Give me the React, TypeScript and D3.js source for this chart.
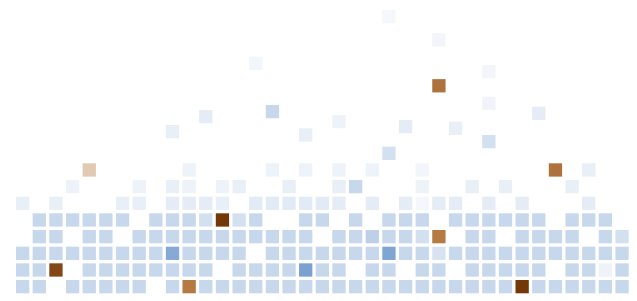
import React from "react";
import * as d3 from "d3";

const _ = null;
// grid rows, bottom (row 0) to top; one value per column (37 columns), null = empty
const row0 = [-.25,-.25,_,-.25,-.25,-.25,-.25,-.25,_,-.25,.55,-.25,-.25, -.25,-.25,-.25,-.25,-.25,-.25,-.25,-.25,-.25,-.25,-.25,-.25, -.25,-.25,-.25,-.25,-.25,1,-.25,-.25,-.25,-.25,-.25,-.25];
const row1 = [-.25,-.25,.9,_,-.25,-.25,-.25,-.25,-.25,-.25,-.25,-.25,_, -.25,-.25,-.25,-.25,-.6,-.25,-.25,_,-.25,-.25,_,-.25, -.25,_,-.25,-.25,-.25,-.25,-.25,_,-.25,-.25,-.08,-.25];
const row2 = [-.25,-.25,-.25,-.25,-.25,-.25,-.25,-.25,-.25,-.55,-.25,-.25,-.25, -.25,_,-.25,-.25,-.25,-.25,-.25,-.25,-.25,-.58,-.25,-.25, -.18,-.25,-.25,-.25,-.25,-.25,-.25,-.25,-.25,-.25,-.25,-.25];
const row3 = [_,-.25,-.25,_,-.25,-.25,_,-.25,-.25,-.25,-.25,-.25,-.25, -.25,-.25,-.25,-.25,-.25,_,-.25,-.25,-.3,-.25,-.25,-.2, .55,_,-.25,-.25,_,-.25,-.25,-.25,-.25,_,-.25,-.2];
const row4 = [_,-.25,-.25,-.25,-.25,-.25,-.25,_,-.25,-.25,-.25,-.2,1, -.2,-.25,_,_,-.25,-.25,_,-.25,_,-.25,-.25,-.25, _,-.25,-.25,-.25,-.25,-.25,-.25,_,-.25,-.25,-.25,_];
const row5 = [-.1,_,-.1,_,_,_,-.1,-.1,_,-.12,-.12,-.12,-.1, _,-.13,-.13,-.13,-.13,-.13,-.12,_,-.12,_,-.12,-.05, -.12,-.12,_,-.12,_,-.12,_,_,_,-.12,_,_];
const row6 = [_,_,_,-.08,_,_,_,-.08,_,-.1,-.08,_,-.08, -.1,_,_,-.1,_,_,-.1,-.25,_,_,_,-.08, _,_,-.1,_,-.1,_,_,_,-.1,_,_,_];
const row7 = [_,_,_,_,.22,_,_,_,_,_,-.08,_,_, _,_,-.08,_,-.08,_,-.08,_,-.08,_,_,-.06, _,_,_,_,_,_,_,.6,_,-.1,_,_];
const gridRows = [row0, row1, row2, row3, row4, row5, row6, row7];

// loose cells above the grid: column, height level, value
const floatCols = [22, 28, 26, 23, 19, 31, 28, 25, 28, 25, 22, 14, 15, 11, 9, 17];
const floatLevels = [8, 8.7, 9.5, 9.6, 9.9, 10.4, 11, 12.05, 12.9, 14.8, 16.2, 13.4, 10.5, 10.2, 9.3, 9.1];
const floatValues = [-.2, -.2, -.1, -.12, -.08, -.12, -.07, .6, -.06, -.06, -.05, -.06, -.25, -.12, -.1, -.1];

const NCOL = 37;

export default function App() {
  const W = 637, H = 301;
  const x = d3.scaleLinear().domain([0, NCOL - 1]).range([16, 615.4]);
  const y = d3.scaleLinear().domain([0, 16]).range([280, 280 - 16 * 16.67]);
  const size = 13.3;
  const color = d3
    .scaleLinear<string>()
    .domain([-1, 0, 0.55, 1])
    .range(["#2363b3", "#ffffff", "#b57a42", "#733808"])
    .interpolate(d3.interpolateRgb)
    .clamp(true);

  const cells: { c: number; l: number; v: number }[] = [];
  gridRows.forEach((row, r) =>
    row.forEach((v, c) => {
      if (v !== null) cells.push({ c, l: r, v: v as number });
    })
  );
  floatCols.forEach((c, i) => cells.push({ c, l: floatLevels[i], v: floatValues[i] }));

  return (
    <svg
      width={W}
      height={H}
      style={{ position: "absolute", left: 0, top: 0, background: "#fff" }}
    >
      {cells.map((d, i) => (
        <rect
          key={i}
          x={x(d.c)}
          y={y(d.l)}
          width={size}
          height={size}
          fill={color(d.v)}
        />
      ))}
    </svg>
  );
}
